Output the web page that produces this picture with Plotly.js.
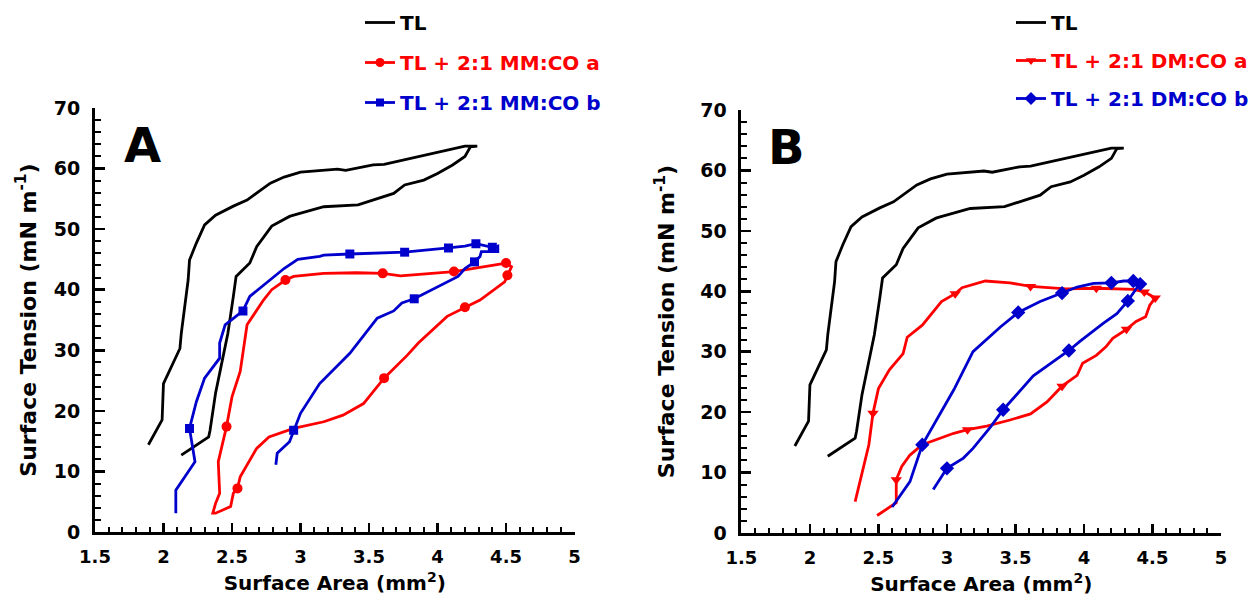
<!DOCTYPE html>
<html>
<head>
<meta charset="utf-8">
<script src="https://cdn.plot.ly/plotly-3.0.1.min.js"></script>
<style>html,body{margin:0;padding:0;background:#fff;}#chart{width:1254px;height:603px;}</style>
</head>
<body>
<div id="chart"></div>
<script>
// ---------- DATA ----------
// Pure TL (same curve in both panels)
const tl_x = [1.89, 1.99, 2.00, 2.04, 2.12, 2.13, 2.16, 2.18, 2.19, 2.24, 2.30, 2.38, 2.51, 2.61, 2.78, 2.88, 3.00, 3.27, 3.33, 3.53, 3.61, 4.12, 4.20, 4.29,
              4.24, 4.20, 4.11, 4.00, 3.90, 3.76, 3.68, 3.42, 3.17, 2.95, 2.92, 2.79, 2.68, 2.63, 2.53, 2.51, 2.47, 2.42, 2.38, 2.34, 2.33, 2.13];
const tl_y = [14.4, 18.5, 24.5, 26.5, 30.3, 32.8, 38.3, 41.6, 44.9, 47.7, 50.7, 52.3, 53.8, 54.8, 57.6, 58.6, 59.4, 59.9, 59.7, 60.6, 60.7, 63.3, 63.7, 63.7,
              63.6, 62.0, 60.6, 59.2, 58.1, 57.3, 55.9, 54.0, 53.7, 52.3, 52.1, 50.5, 47.1, 44.4, 42.2, 38.9, 32.8, 27.3, 22.9, 16.8, 15.7, 12.7];

// Panel A: TL + 2:1 MM:CO a (red, circles)
const a_red_x = [4.50, 4.12, 3.73, 3.60, 3.41, 3.17, 2.95, 2.89, 2.79, 2.73, 2.61, 2.58, 2.56, 2.50, 2.46, 2.40, 2.41, 2.38, 2.36,
                 2.38, 2.49, 2.51, 2.54, 2.56, 2.68, 2.77, 2.95, 3.17, 3.31, 3.46, 3.61, 3.78, 3.86, 4.07, 4.20, 4.31, 4.49, 4.51, 4.54, 4.50];
const a_red_y = [44.4, 43.0, 42.3, 42.7, 42.8, 42.7, 42.2, 41.6, 40.0, 38.3, 34.2, 29.5, 26.5, 22.3, 17.4, 11.6, 6.4, 4.7, 3.1,
                 3.1, 4.2, 6.4, 7.2, 9.1, 13.8, 15.7, 17.1, 18.2, 19.3, 21.2, 25.4, 29.2, 31.2, 35.6, 37.1, 38.3, 41.3, 42.4, 43.8, 44.4];
const a_red_mx = [4.50, 4.12, 3.60, 2.89, 2.46, 2.54, 3.61, 4.20, 4.51];
const a_red_my = [44.4, 43.0, 42.7, 41.6, 17.4, 7.2, 25.4, 37.1, 42.4];

// Panel A: TL + 2:1 MM:CO b (blue, squares)
const a_blue_x = [2.82, 2.83, 2.92, 2.95, 3.00, 3.14, 3.36, 3.56, 3.68, 3.74, 3.83, 4.15, 4.20, 4.27, 4.31, 4.32, 4.44, 4.44, 4.40, 4.28, 4.20, 4.08,
                  3.76, 3.36, 3.17, 3.14, 2.98, 2.88, 2.63, 2.58, 2.45, 2.41, 2.41, 2.30, 2.24, 2.19, 2.23, 2.09, 2.09];
const a_blue_y = [11.1, 13.0, 14.9, 16.8, 19.6, 24.5, 29.5, 35.3, 36.5, 37.8, 38.5, 42.2, 43.5, 44.6, 45.5, 46.3, 46.3, 47.2, 47.0, 47.6, 47.2, 46.9,
                  46.2, 45.9, 45.7, 45.5, 45.0, 43.5, 38.9, 36.5, 34.2, 31.2, 28.7, 25.4, 21.5, 17.1, 11.6, 6.9, 3.1];
const a_blue_mx = [2.95, 3.83, 4.27, 4.40, 4.28, 4.08, 3.76, 3.36, 2.58, 2.19];
const a_blue_my = [16.8, 38.5, 44.6, 47.0, 47.6, 46.9, 46.2, 45.9, 36.5, 17.1];

// Panel B: TL + 2:1 DM:CO a (red, down triangles)
const b_red_x = [2.33, 2.43, 2.46, 2.50, 2.58, 2.68, 2.71, 2.82, 2.96, 3.06, 3.11, 3.28, 3.46, 3.61, 3.87, 4.09, 4.36, 4.44, 4.52,
                 4.48, 4.45, 4.38, 4.31, 4.21, 4.16, 4.09, 3.99, 3.95, 3.84, 3.73, 3.61, 3.46, 3.29, 3.15, 3.05, 2.98, 2.88, 2.82, 2.73, 2.67, 2.63, 2.63, 2.49];
const b_red_y = [5.2, 14.6, 19.8, 23.9, 27.0, 29.7, 32.4, 34.4, 38.3, 39.6, 40.6, 41.7, 41.4, 40.8, 40.4, 40.5, 40.3, 39.9, 38.9,
                 37.7, 35.8, 35.0, 33.7, 32.2, 30.8, 29.4, 28.1, 26.1, 24.3, 21.7, 19.7, 18.7, 17.7, 17.1, 16.5, 15.9, 15.1, 14.6, 12.9, 11.0, 8.8, 5.0, 2.9];
const b_red_mx = [2.46, 3.06, 3.61, 4.09, 4.44, 4.52, 4.31, 3.84, 3.15, 2.63];
const b_red_my = [19.8, 39.6, 40.8, 40.5, 39.9, 38.9, 33.7, 24.3, 17.1, 8.8];

// Panel B: TL + 2:1 DM:CO b (blue, diamonds)
const b_blue_x = [2.90, 3.00, 3.12, 3.19, 3.32, 3.41, 3.63, 3.89, 3.97, 4.14, 4.24, 4.32, 4.39, 4.41, 4.36, 4.29, 4.20, 4.07, 3.95, 3.84,
                  3.68, 3.52, 3.39, 3.19, 3.05, 2.82, 2.73, 2.60];
const b_blue_y = [7.2, 10.7, 12.4, 14.0, 17.6, 20.4, 26.0, 30.2, 31.7, 34.7, 36.3, 38.4, 40.7, 41.2, 41.7, 41.7, 41.4, 41.3, 40.7, 39.7,
                  38.3, 36.5, 34.1, 30.0, 23.7, 14.6, 8.5, 4.3];
const b_blue_mx = [3.00, 3.41, 3.89, 4.32, 4.41, 4.36, 4.20, 3.84, 3.52, 2.82];
const b_blue_my = [10.7, 20.4, 30.2, 38.4, 41.2, 41.7, 41.4, 39.7, 36.5, 14.6];

const names = {
  tl: 'TL',
  a_red: 'TL + 2:1 MM:CO a', a_blue: 'TL + 2:1 MM:CO b',
  b_red: 'TL + 2:1 DM:CO a', b_blue: 'TL + 2:1 DM:CO b'
};
const x_ticks = [1.5, 2, 2.5, 3, 3.5, 4, 4.5, 5];
const y_ticks = [0, 10, 20, 30, 40, 50, 60, 70];

// ---------- STYLE / LAYOUT ----------
const W = 1254, H = 603, M = {l: 50, r: 20, t: 0, b: 50};
const px = v => (v - M.l) / (W - M.l - M.r);
const py = v => (H - M.b - v) / (H - M.t - M.b);
const RED = '#FF0000', BLUE = '#0000CC';
const FAM = 'DejaVu Sans';
const LW = 2.8;

function curve(x, y, color, xa, ya) {
  return {x: x, y: y, xaxis: xa, yaxis: ya, type: 'scatter', mode: 'lines',
          line: {color: color, width: LW}, showlegend: false, hoverinfo: 'skip'};
}
function marks(x, y, color, sym, size, xa, ya) {
  return {x: x, y: y, xaxis: xa, yaxis: ya, type: 'scatter', mode: 'markers',
          marker: {color: color, symbol: sym, size: size, line: {width: 0}}, showlegend: false, hoverinfo: 'skip'};
}
function legendEntry(name, color, sym, size, xa, ya, leg, grp) {
  return {x: [null], y: [null], xaxis: xa, yaxis: ya, type: 'scatter', mode: 'lines+markers',
          name: '<span style="color:' + color + '">' + name + '</span>',
          line: {color: color, width: LW}, marker: {color: color, symbol: sym, size: size},
          legend: leg, legendgroup: grp, showlegend: true};
}

const traces = [
  // Panel A
  Object.assign(curve(tl_x, tl_y, 'black', 'x', 'y'), {showlegend: true, name: names.tl, legend: 'legend', legendgroup: 'a1'}),
  curve(a_red_x, a_red_y, RED, 'x', 'y'),
  marks(a_red_mx, a_red_my, RED, 'circle', 10, 'x', 'y'),
  curve(a_blue_x, a_blue_y, BLUE, 'x', 'y'),
  marks(a_blue_mx, a_blue_my, BLUE, 'square', 9, 'x', 'y'),
  legendEntry(names.a_red, RED, 'circle', 9, 'x', 'y', 'legend', 'a2'),
  legendEntry(names.a_blue, BLUE, 'square', 8, 'x', 'y', 'legend', 'a3'),
  // Panel B
  Object.assign(curve(tl_x, tl_y, 'black', 'x2', 'y2'), {showlegend: true, name: names.tl, legend: 'legend2', legendgroup: 'b1'}),
  curve(b_red_x, b_red_y, RED, 'x2', 'y2'),
  marks(b_red_mx, b_red_my, RED, 'triangle-down', 10, 'x2', 'y2'),
  curve(b_blue_x, b_blue_y, BLUE, 'x2', 'y2'),
  marks(b_blue_mx, b_blue_my, BLUE, 'diamond', 11, 'x2', 'y2'),
  legendEntry(names.b_red, RED, 'triangle-down', 9, 'x2', 'y2', 'legend2', 'b2'),
  legendEntry(names.b_blue, BLUE, 'diamond', 10, 'x2', 'y2', 'legend2', 'b3')
];

function xAxis(d0, d1, anchor) {
  return {domain: [px(d0), px(d1)], anchor: anchor, range: [1.5, 5], tickvals: x_ticks, ticktext: x_ticks.map(String),
          ticks: 'inside', ticklen: 9, tickwidth: 2.5, tickcolor: 'black',
          minor: {ticks: 'inside', dtick: 0.1, tick0: 1.5, ticklen: 5, tickwidth: 2, tickcolor: 'black', showgrid: false},
          showline: true, linewidth: 3, linecolor: 'black', showgrid: false, zeroline: false,
          ticklabelstandoff: 6,
          tickfont: {family: FAM, weight: 'bold', size: 18, color: 'black'},
          title: {text: 'Surface Area (mm<sup>2</sup>)', standoff: 11, font: {family: FAM, weight: 'bold', size: 20, color: 'black'}},
          fixedrange: true};
}
function yAxis(top, bottom, anchor, stand) {
  return {domain: [py(bottom), py(top)], anchor: anchor, range: [0, 70], tickvals: y_ticks, ticktext: y_ticks.map(String),
          ticks: 'inside', ticklen: 10, tickwidth: 2.5, tickcolor: 'black',
          minor: {ticks: 'inside', dtick: 2, tick0: 0, ticklen: 6, tickwidth: 2, tickcolor: 'black', showgrid: false},
          showline: true, linewidth: 3, linecolor: 'black', showgrid: false, zeroline: false,
          ticklabelstandoff: 8,
          tickfont: {family: FAM, weight: 'bold', size: 19, color: 'black'},
          title: {text: 'Surface Tension (mN m<sup>-1</sup>)', standoff: stand, font: {family: FAM, weight: 'bold', size: 22, color: 'black'}},
          fixedrange: true};
}

const legendFont = {family: FAM, weight: 'bold', size: 20, color: 'black'};
const layout = {
  width: W, height: H,
  margin: M,
  paper_bgcolor: 'white', plot_bgcolor: 'white',
  font: {family: FAM, weight: 'bold', color: 'black'},
  xaxis: xAxis(95, 575, 'y'),
  yaxis: yAxis(108, 532, 'x', 12),
  xaxis2: xAxis(742, 1222, 'y2'),
  yaxis2: yAxis(110, 533, 'x2', 20),
  legend: {x: px(360), y: py(3), xanchor: 'left', yanchor: 'top', bgcolor: 'rgba(0,0,0,0)', borderwidth: 0,
           font: legendFont, tracegroupgap: 11, traceorder: 'grouped'},
  legend2: {x: px(1012), y: py(3), xanchor: 'left', yanchor: 'top', bgcolor: 'rgba(0,0,0,0)', borderwidth: 0,
            font: legendFont, tracegroupgap: 9, traceorder: 'grouped'},
  annotations: [
    {text: 'A', xref: 'paper', yref: 'paper', x: px(143), y: py(145), xanchor: 'center', yanchor: 'middle', showarrow: false,
     font: {family: FAM, weight: 'bold', size: 48, color: 'black'}},
    {text: 'B', xref: 'paper', yref: 'paper', x: px(787), y: py(147), xanchor: 'center', yanchor: 'middle', showarrow: false,
     font: {family: FAM, weight: 'bold', size: 48, color: 'black'}}
  ],
  showlegend: true
};

Plotly.newPlot('chart', traces, layout, {staticPlot: true, displayModeBar: false});
</script>
</body>
</html>
